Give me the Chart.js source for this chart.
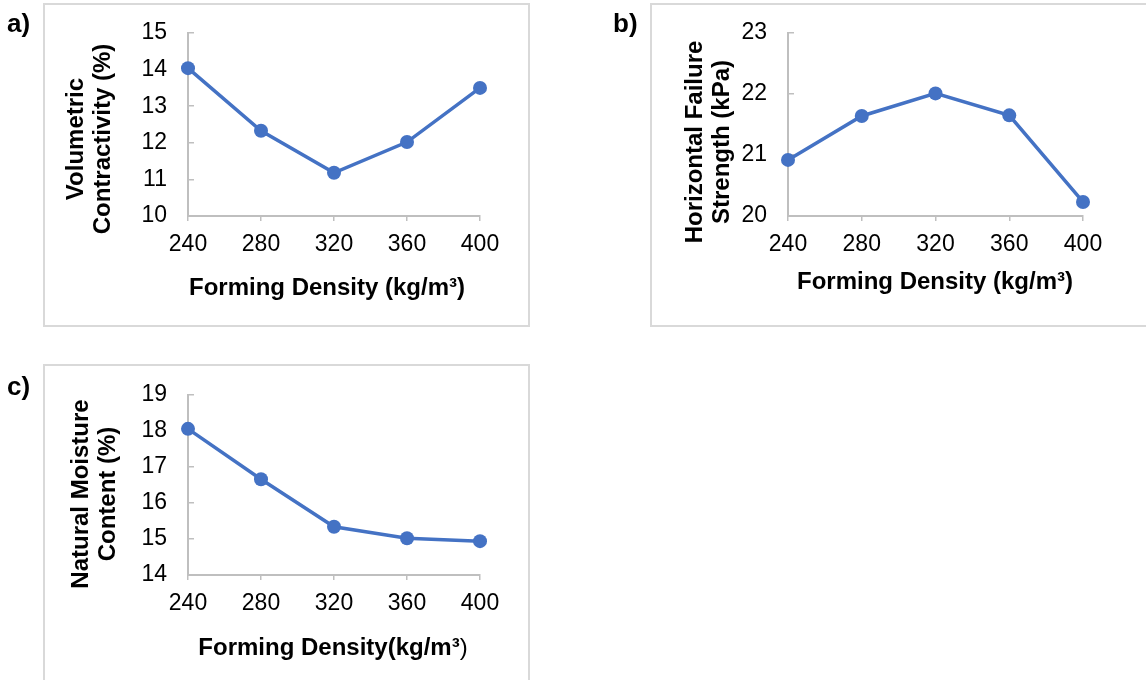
<!DOCTYPE html>
<html>
<head>
<meta charset="utf-8">
<script src="https://cdn.jsdelivr.net/npm/chart.js@4/dist/chart.umd.min.js"></script>
<style>
  html, body { margin: 0; padding: 0; background: #ffffff; }
  body { width: 1146px; height: 680px; position: relative; overflow: hidden; }
  .box { position: absolute; border: 2px solid #d9d9d9; box-sizing: border-box; }
  canvas { position: absolute; }
</style>
</head>
<body>
<div class="box" style="left:43px;top:3px;width:487px;height:324px;"></div>
<div class="box" style="left:650px;top:3px;width:520px;height:324px;"></div>
<div class="box" style="left:43px;top:364px;width:487px;height:340px;"></div>
<canvas id="ca" width="573" height="345" style="left:0px;top:0px;"></canvas>
<canvas id="cb" width="546" height="345" style="left:600px;top:0px;"></canvas>
<canvas id="cc" width="573" height="335" style="left:0px;top:345px;"></canvas>
<script>
// ---- data ----
const densities = ['240', '280', '320', '360', '400'];
const volumetricContractivity = [14.04, 12.33, 11.18, 12.02, 13.50];
const horizontalFailureStrength = [20.92, 21.64, 22.01, 21.65, 20.23];
const naturalMoistureContent = [18.06, 16.66, 15.34, 15.02, 14.94];

const yRangeA = [10, 15];
const yRangeB = [20, 23];
const yRangeC = [14, 19];

const panelLabels = ['a)', 'b)', 'c)'];
const xTitleA = 'Forming Density (kg/m³)';
const xTitleB = 'Forming Density (kg/m³)';
const xTitleC = ['Forming Density(kg/m³', ')'];
const yTitleA = ['Volumetric', 'Contractivity (%)'];
const yTitleB = ['Horizontal Failure', 'Strength (kPa)'];
const yTitleC = ['Natural Moisture', 'Content (%)'];

// ---- styling ----
const FONT = "'Liberation Sans', Arial, sans-serif";
const BLUE = '#4472C4';
const AXIS = '#bfbfbf';

const textPlugin = {
  id: 'panelText',
  afterDraw(chart, args, opts) {
    const ctx = chart.ctx;
    (opts.items || []).forEach(it => {
      ctx.save();
      ctx.fillStyle = '#000';
      ctx.textBaseline = it.baseline || 'middle';
      ctx.translate(it.x, it.y);
      if (it.rotate) ctx.rotate(it.rotate);
      const parts = it.parts || [{ text: it.text, weight: it.weight || 'bold' }];
      const size = it.size || 24;
      let total = 0;
      parts.forEach(p => { ctx.font = p.weight + ' ' + size + 'px ' + FONT; p.w = ctx.measureText(p.text).width; total += p.w; });
      let x = it.align === 'left' ? 0 : -total / 2;
      ctx.textAlign = 'left';
      parts.forEach(p => { ctx.font = p.weight + ' ' + size + 'px ' + FONT; ctx.fillText(p.text, x, 0); x += p.w; });
      ctx.restore();
    });
  }
};

function makeChart(id, values, yRange, pad, texts) {
  return new Chart(document.getElementById(id), {
    type: 'line',
    data: {
      labels: densities,
      datasets: [{
        data: values,
        borderColor: BLUE,
        backgroundColor: BLUE,
        borderWidth: 3.5,
        pointRadius: 7,
        pointHoverRadius: 7,
        pointBackgroundColor: BLUE,
        pointBorderWidth: 0,
        tension: 0,
        fill: false
      }]
    },
    options: {
      responsive: false,
      devicePixelRatio: 1,
      animation: false,
      events: [],
      layout: { padding: pad },
      plugins: {
        legend: { display: false },
        tooltip: { enabled: false },
        panelText: { items: texts }
      },
      scales: {
        x: {
          type: 'category',
          offset: false,
          afterFit: s => { s.height = 60; s.paddingLeft = 0; s.paddingRight = 0; },
          grid: { display: true, drawOnChartArea: false, drawTicks: true, tickLength: 5, color: AXIS, lineWidth: 1.5 },
          border: { display: true, color: AXIS, width: 2 },
          ticks: { color: '#000', padding: 10, maxRotation: 0, autoSkip: false, font: { family: FONT, size: 23 } }
        },
        y: {
          min: yRange[0],
          max: yRange[1],
          afterFit: s => { s.width = 188 - (pad.left || 0); s.paddingTop = 0; s.paddingBottom = 0; },
          grid: { display: true, drawOnChartArea: false, drawTicks: true, tickLength: -6, color: AXIS, lineWidth: 1.5 },
          border: { display: true, color: AXIS, width: 2 },
          ticks: { color: '#000', padding: 27, stepSize: 1, font: { family: FONT, size: 23 } }
        }
      }
    },
    plugins: [textPlugin]
  });
}

const ROT = -Math.PI / 2;

makeChart('ca', volumetricContractivity, yRangeA, { left: 0, top: 33, right: 93, bottom: 69 }, [
  { text: panelLabels[0], x: 7, y: 32, baseline: 'alphabetic', align: 'left', size: 26 },
  { text: yTitleA[0], x: 76, y: 139, rotate: ROT },
  { text: yTitleA[1], x: 103, y: 139, rotate: ROT },
  { text: xTitleA, x: 327, y: 288 }
]);

makeChart('cb', horizontalFailureStrength, yRangeB, { left: 0, top: 33, right: 63, bottom: 69 }, [
  { text: panelLabels[1], x: 13, y: 32, baseline: 'alphabetic', align: 'left', size: 26 },
  { text: yTitleB[0], x: 95, y: 142, rotate: ROT },
  { text: yTitleB[1], x: 122, y: 142, rotate: ROT },
  { text: xTitleB, x: 335, y: 282 }
]);

makeChart('cc', naturalMoistureContent, yRangeC, { left: 0, top: 50, right: 93, bottom: 45 }, [
  { text: panelLabels[2], x: 7, y: 50, baseline: 'alphabetic', align: 'left', size: 26 },
  { text: yTitleC[0], x: 81, y: 149, rotate: ROT },
  { text: yTitleC[1], x: 108, y: 149, rotate: ROT },
  { parts: [{ text: xTitleC[0], weight: 'bold' }, { text: xTitleC[1], weight: 'normal' }], x: 333, y: 303 }
]);
</script>
</body>
</html>
